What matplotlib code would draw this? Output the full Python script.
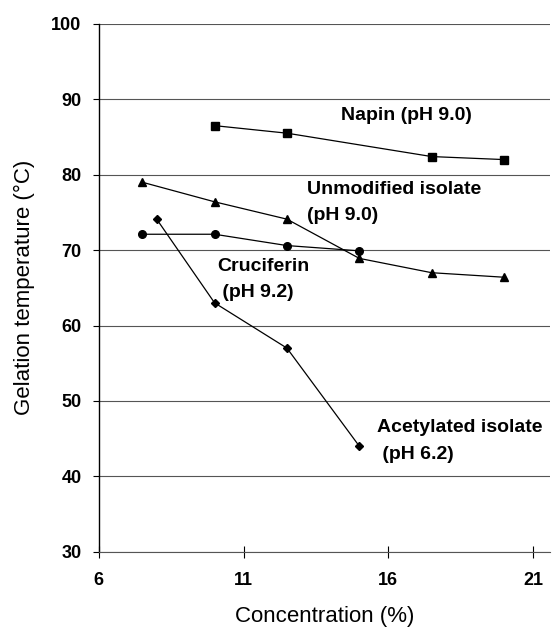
import matplotlib
matplotlib.use("Agg")
import matplotlib.pyplot as plt

plt.rcParams['font.family'] = ['Liberation Sans', 'DejaVu Sans']

# gelation temperature vs concentration
napin_x = [10, 12.5, 17.5, 20]
napin_y = [86.5, 85.5, 82.4, 82.0]

unmod_x = [7.5, 10, 12.5, 15, 17.5, 20]
unmod_y = [79.0, 76.4, 74.1, 68.9, 67.0, 66.4]

cruc_x = [7.5, 10, 12.5, 15]
cruc_y = [72.1, 72.1, 70.6, 69.9]

acet_x = [8, 10, 12.5, 15]
acet_y = [74.1, 63.0, 57.0, 44.0]

fig = plt.figure(figsize=(5.52, 6.27), dpi=100)
ax = fig.add_axes([0.179, 0.12, 0.818, 0.842])

ax.plot(napin_x, napin_y, color="black", lw=0.9, marker="s", ms=5.5)
ax.plot(unmod_x, unmod_y, color="black", lw=0.9, marker="^", ms=5.5)
ax.plot(cruc_x, cruc_y, color="black", lw=0.9, marker="o", ms=5.5)
ax.plot(acet_x, acet_y, color="black", lw=0.9, marker="D", ms=4.2)

kw = dict(fontsize=14, fontweight="bold", va="center", ha="left")
ax.text(14.38, 87.9, "Napin (pH 9.0)", **kw)
ax.text(13.2, 78.0, "Unmodified isolate", **kw)
ax.text(13.2, 74.6, "(pH 9.0)", **kw)
ax.text(10.1, 67.8, "Cruciferin", **kw)
ax.text(10.1, 64.4, " (pH 9.2)", **kw)
ax.text(15.6, 46.5, "Acetylated isolate", **kw)
ax.text(15.6, 42.9, " (pH 6.2)", **kw)

ax.set_xlim(6, 21.6)
ax.set_ylim(30, 100)
ax.set_xticks([6, 11, 16, 21])
ax.set_yticks(range(30, 101, 10))
ax.yaxis.grid(True, color="#555555", lw=0.8)
ax.set_axisbelow(True)

for s in ["top", "right"]:
    ax.spines[s].set_visible(False)
ax.spines["left"].set_linewidth(1.0)
ax.spines["bottom"].set_color("#555555")
ax.spines["bottom"].set_linewidth(0.8)

ax.tick_params(axis="y", direction="out", length=4.5, width=0.8, labelsize=13, pad=8)
ax.tick_params(axis="x", direction="inout", length=9, width=0.8, labelsize=13, pad=10)
for lab in ax.get_xticklabels() + ax.get_yticklabels():
    lab.set_fontweight("bold")

ax.set_xlabel("Concentration (%)", fontsize=16, labelpad=12)
ax.set_ylabel("Gelation temperature (\u00b0C)", fontsize=16, labelpad=12)

fig.savefig("out.png", dpi=100)
